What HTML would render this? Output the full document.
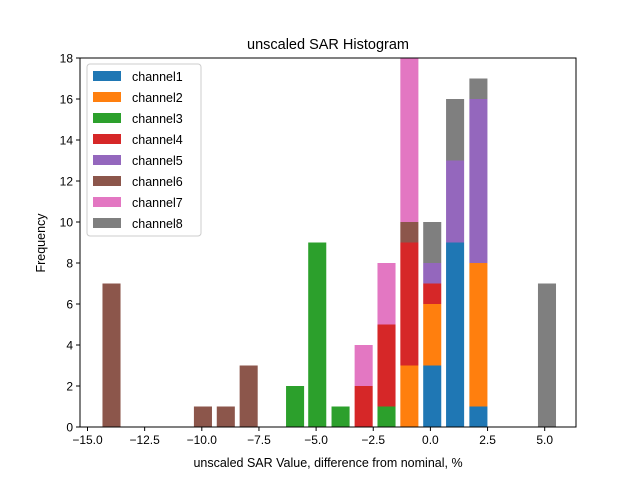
<!DOCTYPE html>
<html><head><meta charset="utf-8"><style>
body{margin:0;background:#fff;}
svg{font-family:"Liberation Sans","DejaVu Sans",sans-serif;}
</style></head><body>
<svg id="chart" width="640" height="480" xmlns="http://www.w3.org/2000/svg">
<rect width="640" height="480" fill="#fff"/>
<text x="328" y="49" font-size="14.5" text-anchor="middle">unscaled SAR Histogram</text>
<g id="bars"></g>
<g id="axes"></g>
<g id="legend"></g>
</svg>
<script>
const bins = [-13.95, -9.95, -8.95, -7.95, -5.92, -4.95, -3.93, -2.92, -1.92, -0.92, 0.08, 1.08, 2.1, 5.1];
const channelNames = ["channel1","channel2","channel3","channel4","channel5","channel6","channel7","channel8"];
const colors = ["#1f77b4","#ff7f0e","#2ca02c","#d62728","#9467bd","#8c564b","#e377c2","#7f7f7f"];
const ch1 = [0,0,0,0,0,0,0,0,0,0,3,9,1,0];
const ch2 = [0,0,0,0,0,0,0,0,0,3,3,0,7,0];
const ch3 = [0,0,0,0,2,9,1,0,1,0,0,0,0,0];
const ch4 = [0,0,0,0,0,0,0,2,4,6,1,0,0,0];
const ch5 = [0,0,0,0,0,0,0,0,0,0,1,4,8,0];
const ch6 = [7,1,1,3,0,0,0,0,0,1,0,0,0,0];
const ch7 = [0,0,0,0,0,0,0,2,3,8,0,0,0,0];
const ch8 = [0,0,0,0,0,0,0,0,0,0,2,3,1,7];
const series = [ch1,ch2,ch3,ch4,ch5,ch6,ch7,ch8];
const xTicks = [-15,-12.5,-10,-7.5,-5,-2.5,0,2.5,5];
const xTickLabels = ["\u221215.0","\u221212.5","\u221210.0","\u22127.5","\u22125.0","\u22122.5","0.0","2.5","5.0"];
const yTicks = [0,2,4,6,8,10,12,14,16,18];
const barWidth = 0.79;

const L=80,R=576,T=58,B=427;
const xMin=-15.35, xMax=6.35, yMax=18;
const sx=v=>87.5+(v+15)*22.86;
const sy=v=>B-(v/yMax)*(B-T);
const NS="http://www.w3.org/2000/svg";
function mk(tag,attrs,parent){const e=document.createElementNS(NS,tag);for(const k in attrs)e.setAttribute(k,attrs[k]);parent.appendChild(e);return e;}

const bars=document.getElementById('bars');
const base=bins.map(()=>0);
series.forEach((s,ci)=>{
  s.forEach((v,i)=>{
    if(v>0){
      const r=mk('rect',{x:sx(bins[i]-barWidth/2),y:sy(base[i]+v),width:sx(barWidth)-sx(0),height:sy(base[i])-sy(base[i]+v),fill:colors[ci]},bars);
      
      
    }
    base[i]+=v;
  });
});

const ax=document.getElementById('axes');
const frame=mk('rect',{x:L,y:T,width:R-L,height:B-T,fill:'none',stroke:'#000','stroke-width':1},ax);


xTicks.forEach((t,i)=>{
  const x=sx(t);
  mk('line',{x1:x,x2:x,y1:B,y2:B+4,stroke:'#000'},ax);
  const tx=mk('text',{x:x,y:B+17,'font-size':'12','text-anchor':'middle'},ax);
  tx.textContent=xTickLabels[i];
  
  
});
yTicks.forEach(t=>{
  const y=sy(t);
  mk('line',{x1:L-4,x2:L,y1:y,y2:y,stroke:'#000'},ax);
  const tx=mk('text',{x:L-7,y:y+4.5,'font-size':'12','text-anchor':'end'},ax);
  tx.textContent=t;
  
  
});
const xl=mk('text',{x:328,y:467,'font-size':'12.5','text-anchor':'middle'},ax);
xl.textContent='unscaled SAR Value, difference from nominal, %';


const yl=mk('text',{x:45,y:243,'font-size':'12.5','text-anchor':'middle',transform:'rotate(-90 45 243)'},ax);
yl.textContent='Frequency';



const lg=document.getElementById('legend');
const box=mk('rect',{x:87,y:64,width:114,height:172,rx:3,fill:'#fff','fill-opacity':0.8,stroke:'#ccc'},lg);


channelNames.forEach((n,i)=>{
  const y=70+i*21;
  const g=mk('g',{},lg);
  
  
  mk('rect',{x:93,y:y+1,width:28,height:10,fill:colors[i]},g);
  const t=mk('text',{x:132,y:y+11,'font-size':'12.5'},g);
  t.textContent=n;
});
</script>
</body></html>
